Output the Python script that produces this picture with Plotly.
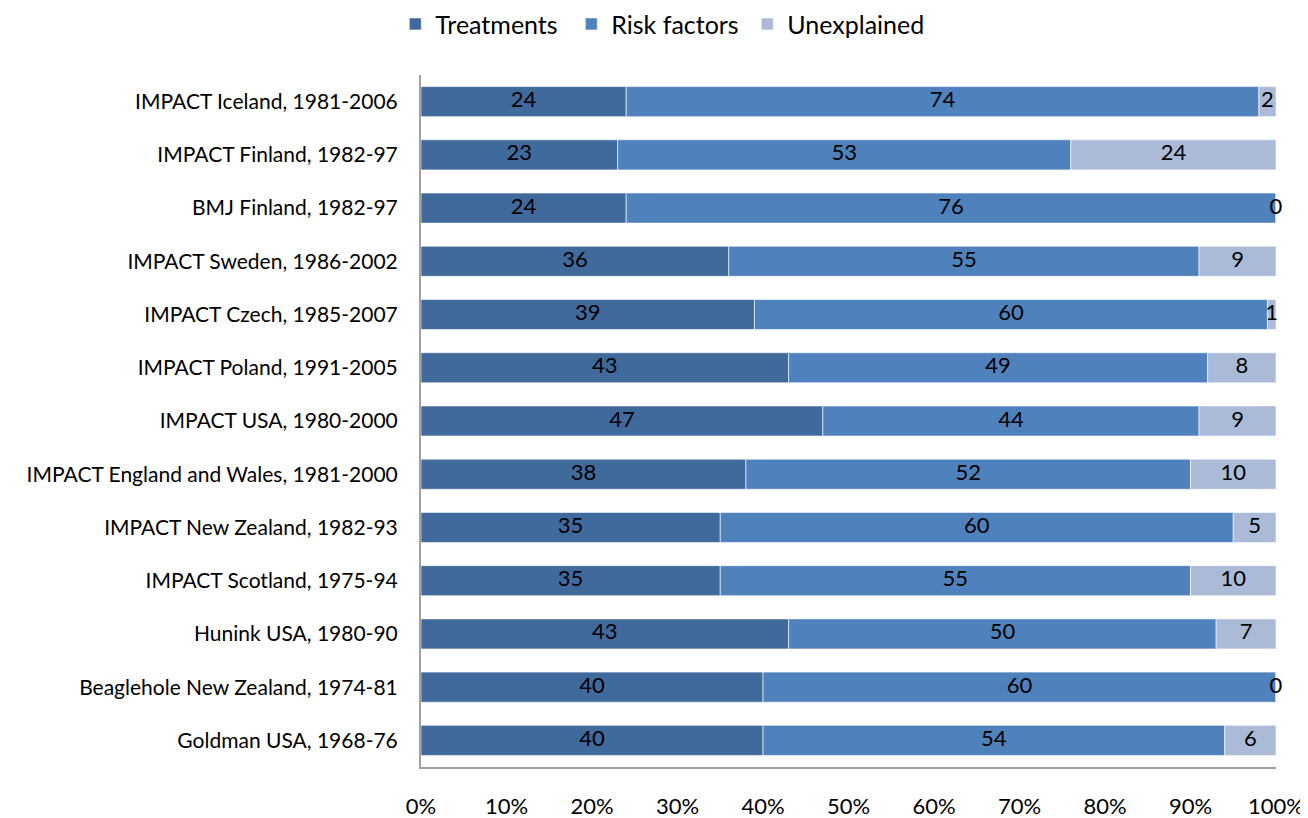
import plotly.graph_objects as go

studies = [
    "IMPACT Iceland, 1981-2006",
    "IMPACT Finland, 1982-97",
    "BMJ Finland, 1982-97",
    "IMPACT Sweden, 1986-2002",
    "IMPACT Czech, 1985-2007",
    "IMPACT Poland, 1991-2005",
    "IMPACT USA, 1980-2000",
    "IMPACT England and Wales, 1981-2000",
    "IMPACT New Zealand, 1982-93",
    "IMPACT Scotland, 1975-94",
    "Hunink USA, 1980-90",
    "Beaglehole New Zealand, 1974-81",
    "Goldman USA, 1968-76",
]
treatments = [24, 23, 24, 36, 39, 43, 47, 38, 35, 35, 43, 40, 40]
risk_factors = [74, 53, 76, 55, 60, 49, 44, 52, 60, 55, 50, 60, 54]
unexplained = [2, 24, 0, 9, 1, 8, 9, 10, 5, 10, 7, 0, 6]

series = [
    ("Treatments", treatments, "#40699C"),
    ("Risk factors", risk_factors, "#4F81BD"),
    ("Unexplained", unexplained, "#AABAD7"),
]

FONT = "Lato"
fig = go.Figure()

totals = [t + r + u for t, r, u in zip(treatments, risk_factors, unexplained)]
base = [0] * len(studies)
for name, vals, color in series:
    shares = [v / tot for v, tot in zip(vals, totals)]
    fig.add_trace(go.Bar(
        y=studies, x=shares, base=base, name=name, orientation="h",
        marker=dict(color=color, line=dict(color="rgba(255,255,255,0.6)", width=1)),
        width=0.565, hoverinfo="skip",
    ))
    mids = [b + s / 2 for b, s in zip(base, shares)]
    fig.add_trace(go.Scatter(
        y=studies, x=mids, mode="text", text=[str(v) for v in vals],
        textfont=dict(family=FONT, size=22, color="black"),
        showlegend=False, hoverinfo="skip", cliponaxis=False,
    ))
    base = [b + s for b, s in zip(base, shares)]

n = len(studies)
fig.update_layout(
    width=1300, height=810,
    margin=dict(l=413, r=32, t=67, b=51, autoexpand=False),
    paper_bgcolor="white", plot_bgcolor="white",
    font=dict(family=FONT, size=21, color="black"),
    barmode="overlay",
    showlegend=True,
    legend=dict(
        orientation="h", xref="container", yref="container",
        x=0.501, xanchor="center", y=0.980, yanchor="middle",
        font=dict(family=FONT, size=25, color="black"),
        itemwidth=30, traceorder="normal", entrywidth=131,
    ),
    xaxis=dict(
        range=[0, 1], tickformat=".0%", dtick=0.1, showgrid=False, zeroline=False,
        showline=True, linecolor="#A0A0A0", linewidth=2, automargin=False,
        ticks="", ticklabelstandoff=19,
        tickfont=dict(family=FONT, size=22, color="black"),
    ),
    yaxis=dict(
        categoryorder="array", categoryarray=studies, range=[n - 0.5, -0.5],
        showgrid=False, zeroline=False, showline=True, linecolor="#A0A0A0", linewidth=2,
        ticks="", ticklabelstandoff=17, automargin=False,
        tickfont=dict(family=FONT, size=21, color="black"),
    ),
)

fig.write_html("out.html")
